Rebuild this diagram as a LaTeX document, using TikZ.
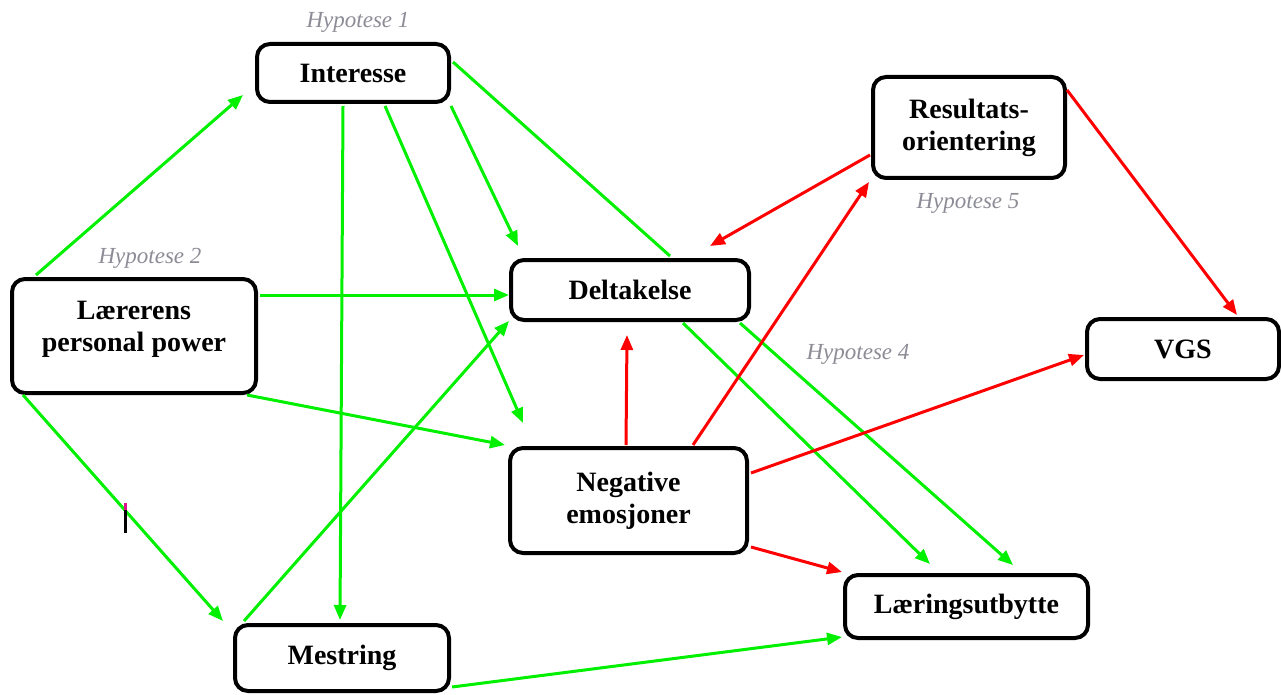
\documentclass[tikz,border=0pt]{standalone}
\usepackage{fontspec}
\setmainfont{Liberation Serif}
\usetikzlibrary{arrows.meta}
\definecolor{pgreen}{RGB}{0,240,0}
\definecolor{pred}{RGB}{255,0,0}
\definecolor{hyp}{RGB}{140,140,150}
\tikzset{
  box/.style={draw=black, line width=4pt, rounded corners=13pt, fill=white,
    align=center, inner sep=0pt,
    font=\fontsize{28}{32}\selectfont\bfseries},
  hyplabel/.style={text=hyp, inner sep=0pt, font=\fontsize{23}{26}\selectfont\itshape},
  tipg/.style={-{Triangle[length=15pt,width=12pt]}},
  gline/.style={draw=pgreen, line width=3pt},
  rline/.style={draw=pred, line width=3pt},
}
\begin{document}
\begin{tikzpicture}[x=1pt,y=-1pt]
\useasboundingbox (0,0) rectangle (1281,695);

% boxes
\node[box, minimum width=192pt, minimum height=58pt]  (int) at (353,73)     {Interesse};
\node[box, minimum width=244pt, minimum height=114pt] (lp)  at (134,336)
  {\raisebox{1pt}[0pt][0pt]{\begin{tabular}{@{}c@{}}Lærerens\\personal power\end{tabular}}};
\node[box, minimum width=192pt, minimum height=101pt] (res) at (969,127.5)  {Resultats-\\orientering};
\node[box, minimum width=238pt, minimum height=60pt]  (del) at (630,290)    {Deltakelse};
\node[box, minimum width=237pt, minimum height=105pt] (neg) at (628.5,500.5){Negative\\emosjoner};
\node[box, minimum width=214pt, minimum height=66pt]  (mes) at (342,658)    {Mestring};
\node[box, minimum width=243pt, minimum height=63pt]  (ler) at (966.5,606.5){Læringsutbytte};
\node[box, minimum width=192pt, minimum height=60pt]  (vgs) at (1183,349)   {VGS};

% hypothesis labels
\node[hyplabel] (h1) at (358,22)  {Hypotese 1};
\node[hyplabel] (h2) at (150,258) {Hypotese 2};
\node[hyplabel] (h5) at (968,203) {Hypotese 5};
\node[hyplabel] (h4) at (858,354) {Hypotese 4};

% green paths
\draw[gline,tipg,pgreen] ([shift={(26,-2)}]lp.north west) -- ([shift={(-12,-9)}]int.south west);
\draw[gline,tipg,pgreen] ([shift={(2,-41)}]lp.east) -- ([shift={(0,5)}]del.west);
\draw[gline,tipg,pgreen] ([shift={(-11,0)}]lp.south east) -- ([shift={(-3,-1)}]neg.north west);
\draw[gline,tipg,pgreen] ([shift={(13,0)}]lp.south west) -- ([shift={(-10,-2)}]mes.north west);
\draw[gline,tipg,pgreen] ([shift={(-10,2)}]int.south) -- ([shift={(-2,-3)}]mes.north);
\draw[gline,tipg,pgreen] ([shift={(32,2)}]int.south) -- ([shift={(15,-23)}]neg.north west);
\draw[gline,tipg,pgreen] ([shift={(0,2)}]int.south east) -- ([shift={(9,-12)}]del.north west);
\draw[gline] ([shift={(2,-11)}]int.east) -- ([shift={(40,-2)}]del.north);
\draw[gline,tipg,pgreen] ([shift={(11,-2)}]mes.north west) -- ([shift={(0,-1)}]del.south west);
\draw[gline,tipg,pgreen] ([shift={(1,-6)}]mes.south east) -- ([shift={(-1,-3)}]ler.south west);
\draw[gline,tipg,pgreen] ([shift={(53,1)}]del.south) -- ([shift={(-36.5,-9)}]ler.north);
\draw[gline,tipg,pgreen] ([shift={(110,1)}]del.south) -- ([shift={(46.5,-8)}]ler.north);

% red paths
\draw[rline,tipg,pred] ([shift={(-2.5,-1)}]neg.north) -- ([shift={(-3,13)}]del.south);
\draw[rline,tipg,pred] ([shift={(64.5,-1)}]neg.north) -- ([shift={(-2,2)}]res.south west);
\draw[rline,tipg,pred] ([shift={(2,-27.5)}]neg.east) -- ([shift={(-1,6)}]vgs.west);
\draw[rline,tipg,pred] ([shift={(2,-8)}]neg.south east) -- ([shift={(-1,-1)}]ler.north west);
\draw[rline,tipg,pred] ([shift={(-1,27.5)}]res.west) -- ([shift={(80,-12)}]del.north);
\draw[rline,tipg,pred] ([shift={(0,15)}]res.north east) -- ([shift={(54,-2)}]vgs.north);

% text cursor mark
\fill[black] (123.5,503) rectangle (127,533);
\fill[magenta!85!violet] (123.5,503) rectangle (127,510);
\end{tikzpicture}
\end{document}
